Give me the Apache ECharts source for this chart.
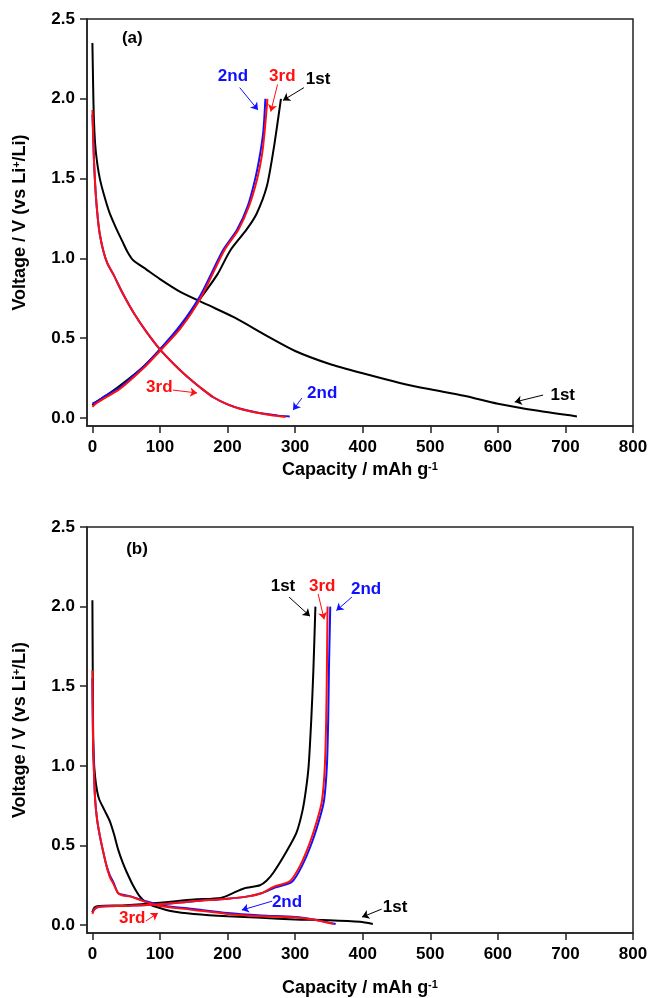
<!DOCTYPE html>
<html>
<head>
<meta charset="utf-8">
<script src="https://cdn.jsdelivr.net/npm/echarts@6/dist/echarts.min.js"></script>
<style>
html,body{margin:0;padding:0;background:#fff}
#main{width:651px;height:998px}
</style>
</head>
<body>
<div id="main"></div>
<script>
// ---- (a) ----
var a1Dis = [[0,2.35],[1,2.1],[2,1.9],[4,1.72],[7,1.6],[11,1.5],[17,1.4],[25,1.29],[35,1.19],[44,1.11],[52,1.04],[60,0.99],[80,0.93],[100,0.87],[130,0.79],[170,0.71],[210,0.63],[260,0.51],[300,0.42],[350,0.34],[400,0.28],[455,0.22],[500,0.18],[550,0.14],[600,0.09],[660,0.045],[717,0.01]];
var a1Chg = [[0,0.08],[5,0.1],[20,0.14],[40,0.2],[75,0.32],[100,0.43],[130,0.57],[160,0.75],[185,0.9],[204,1.05],[228,1.18],[243,1.28],[258,1.45],[268,1.68],[274,1.85],[279,2.0]];
var a2Dis = [[0,1.9],[1,1.78],[2,1.65],[3,1.55],[5,1.4],[8,1.25],[11,1.15],[16,1.05],[22,0.97],[31,0.9],[45,0.78],[61,0.66],[80,0.54],[100,0.43],[120,0.34],[140,0.26],[160,0.19],[179,0.13],[200,0.085],[218,0.06],[240,0.038],[258,0.025],[275,0.015],[292,0.01]];
var a2Chg = [[0,0.09],[5,0.1],[20,0.14],[40,0.19],[75,0.32],[100,0.43],[130,0.58],[160,0.77],[193,1.05],[214,1.18],[230,1.33],[241,1.5],[248,1.65],[253,1.8],[256,2.0]];
var a3Dis = [[0,1.93],[1,1.8],[2,1.65],[3,1.55],[5,1.4],[8,1.25],[11,1.15],[16,1.05],[22,0.97],[31,0.9],[45,0.78],[61,0.66],[80,0.54],[100,0.43],[120,0.34],[140,0.26],[160,0.19],[179,0.13],[200,0.085],[218,0.058],[240,0.036],[258,0.022],[275,0.012],[286,0.006]];
var a3Chg = [[0,0.07],[5,0.09],[20,0.13],[40,0.18],[75,0.31],[100,0.42],[130,0.56],[160,0.75],[195,1.05],[216,1.18],[232,1.33],[244,1.5],[251,1.65],[255,1.8],[259,2.0]];

// ---- (b) ----
var b1Dis = [[0,2.04],[0.5,1.6],[1,1.25],[2,1.05],[4,0.93],[7,0.84],[10,0.79],[18,0.72],[26,0.65],[32,0.57],[38,0.475],[45,0.39],[51,0.33],[60,0.25],[70,0.18],[80,0.14],[90,0.12],[120,0.085],[150,0.07],[200,0.055],[250,0.045],[300,0.035],[350,0.03],[396,0.02],[415,0.006]];
var b1Chg = [[0,0.08],[3,0.11],[10,0.12],[50,0.125],[100,0.14],[150,0.16],[190,0.17],[208,0.2],[224,0.23],[248,0.25],[258,0.28],[268,0.33],[287,0.46],[302,0.58],[311,0.72],[316,0.85],[320,1.0],[324,1.3],[327,1.6],[330,2.0]];
var b2Dis = [[0,1.55],[0.5,1.3],[1,1.15],[2,1.0],[4,0.79],[7,0.66],[11,0.56],[16,0.46],[21,0.37],[26,0.31],[31,0.27],[38,0.2],[45,0.19],[56,0.18],[75,0.155],[100,0.125],[150,0.1],[200,0.075],[250,0.06],[300,0.05],[327,0.035],[345,0.02],[360,0.006]];
var b2Chg = [[0,0.08],[3,0.1],[10,0.115],[50,0.12],[100,0.13],[150,0.15],[200,0.165],[230,0.18],[250,0.2],[270,0.235],[295,0.27],[310,0.37],[325,0.52],[337,0.68],[343,0.79],[347,1.0],[349,1.3],[350,1.6],[352,2.0]];
var b3Dis = [[0,1.6],[0.5,1.35],[1,1.15],[2,1.0],[4,0.79],[7,0.66],[11,0.56],[16,0.46],[21,0.37],[26,0.3],[31,0.26],[38,0.2],[45,0.185],[56,0.18],[75,0.15],[100,0.12],[150,0.095],[200,0.07],[250,0.055],[300,0.048],[327,0.035],[345,0.018],[357,0.006]];
var b3Chg = [[0,0.07],[3,0.1],[10,0.115],[50,0.12],[100,0.13],[150,0.15],[200,0.165],[230,0.18],[250,0.2],[268,0.24],[292,0.275],[307,0.37],[322,0.52],[334,0.68],[340,0.79],[344,1.0],[346,1.3],[347,1.6],[348,2.0]];

// ticks
var xTicks = [0,100,200,300,400,500,600,700,800];
var yTicks = [0,0.5,1.0,1.5,2.0,2.5];

// annotations: [text, capacity, voltage] and arrows [cycle, x1, y1, x2, y2]
var aLabels = [['(a)',59,2.38],['2nd',208,2.14],['3rd',281,2.14],['1st',334,2.12],['3rd',99,0.19],['2nd',340,0.157],['1st',696,0.144]];
var aArrows = [['2nd',218,2.07,245,1.93],['3rd',274,2.09,264,1.92],['1st',313,2.07,282,1.99],['3rd',119,0.175,155,0.157],['2nd',310,0.125,297,0.05],['1st',667,0.144,625,0.1]];
var bLabels = [['(b)',66,2.36],['1st',282,2.13],['3rd',340,2.125],['2nd',405,2.11],['3rd',59,0.04],['2nd',288,0.145],['1st',448,0.11]];
var bArrows = [['1st',291,2.06,322,1.94],['3rd',334,2.08,343,1.92],['2nd',384,2.06,361,1.975],['3rd',79,0.025,97,0.075],['2nd',266,0.15,221,0.094],['1st',428,0.1,399,0.05]];

var cycleColor = {'1st':'#000000','2nd':'#1010ff','3rd':'#ff1010'};
var FONT = 'Liberation Sans';
var supStyle = {fontFamily:FONT, fontWeight:'bold', fontSize:11, verticalAlign:'top', lineHeight:11, color:'#000'};

function xAx(i){
    return {
        type:'value', gridIndex:i, min:-8, max:800,
        name:'Capacity / mAh g{sup|-1}', nameLocation:'middle', nameGap: i==0 ? 35 : 46,
        nameTextStyle:{fontFamily:FONT, fontWeight:'bold', fontSize:18, color:'#000', rich:{sup:supStyle}},
        axisLine:{show:true, onZero:false, lineStyle:{color:'#222', width:1.5}},
        axisTick:{show:true, inside:false, length:7, customValues:xTicks, lineStyle:{color:'#222', width:1.5}},
        axisLabel:{customValues:xTicks, margin:13, fontFamily:FONT, fontWeight:'bold', fontSize:17, color:'#000'},
        splitLine:{show:false}
    };
}
function yAx(i){
    return {
        type:'value', gridIndex:i, min:-0.05, max:2.5,
        name:'Voltage / V (vs Li{sup|+}/Li)', nameLocation:'middle', nameGap:58, nameRotate:90,
        nameTextStyle:{fontFamily:FONT, fontWeight:'bold', fontSize:18, color:'#000', rich:{sup:supStyle}},
        axisLine:{show:true, onZero:false, lineStyle:{color:'#222', width:1.5}},
        axisTick:{show:true, inside:false, length:7, customValues:yTicks, lineStyle:{color:'#222', width:1.5}},
        axisLabel:{customValues:yTicks, margin:12, fontFamily:FONT, fontWeight:'bold', fontSize:17, color:'#000',
            formatter:function(v){ return v.toFixed(1); }},
        splitLine:{show:false}
    };
}
function curve(d, cyc, i){
    return {type:'line', data:d, xAxisIndex:i, yAxisIndex:i, showSymbol:false, smooth:0.25,
        lineStyle:{color:cycleColor[cyc], width:2}, itemStyle:{color:cycleColor[cyc]}, z:2};
}
function notes(labels, arrows, i){
    return {
        type:'scatter', xAxisIndex:i, yAxisIndex:i, symbolSize:0, z:5, silent:true,
        itemStyle:{opacity:1},
        data: labels.map(function(l){
            return {name:l[0], value:[l[1], l[2]], label:{color:cycleColor[l[0]] || '#000'}};
        }),
        label:{show:true, position:'inside', formatter:'{b}', fontFamily:FONT, fontWeight:'bold', fontSize:17, opacity:1},
        markLine:{
            silent:true, symbol:['none','arrow'], symbolSize:7, label:{show:false},
            data: arrows.map(function(a){
                return [{coord:[a[1],a[2]], lineStyle:{color:cycleColor[a[0]], width:1, type:'solid', opacity:1}},
                        {coord:[a[3],a[4]]}];
            })
        }
    };
}

var chart = echarts.init(document.getElementById('main'));
var option = {
    animation:false,
    backgroundColor:'#fff',
    grid:[
        {left:87, right:18, top:19, height:407, show:true, borderColor:'#222', borderWidth:1.5},
        {left:87, right:18, top:527, height:407, show:true, borderColor:'#222', borderWidth:1.5}
    ],
    xAxis:[xAx(0), xAx(1)],
    yAxis:[yAx(0), yAx(1)],
    series:[
        curve(a1Dis,'1st',0), curve(a1Chg,'1st',0),
        curve(a2Dis,'2nd',0), curve(a2Chg,'2nd',0),
        curve(a3Dis,'3rd',0), curve(a3Chg,'3rd',0),
        notes(aLabels, aArrows, 0),
        curve(b1Dis,'1st',1), curve(b1Chg,'1st',1),
        curve(b2Dis,'2nd',1), curve(b2Chg,'2nd',1),
        curve(b3Dis,'3rd',1), curve(b3Chg,'3rd',1),
        notes(bLabels, bArrows, 1)
    ]
};
chart.setOption(option);
</script>
</body>
</html>
